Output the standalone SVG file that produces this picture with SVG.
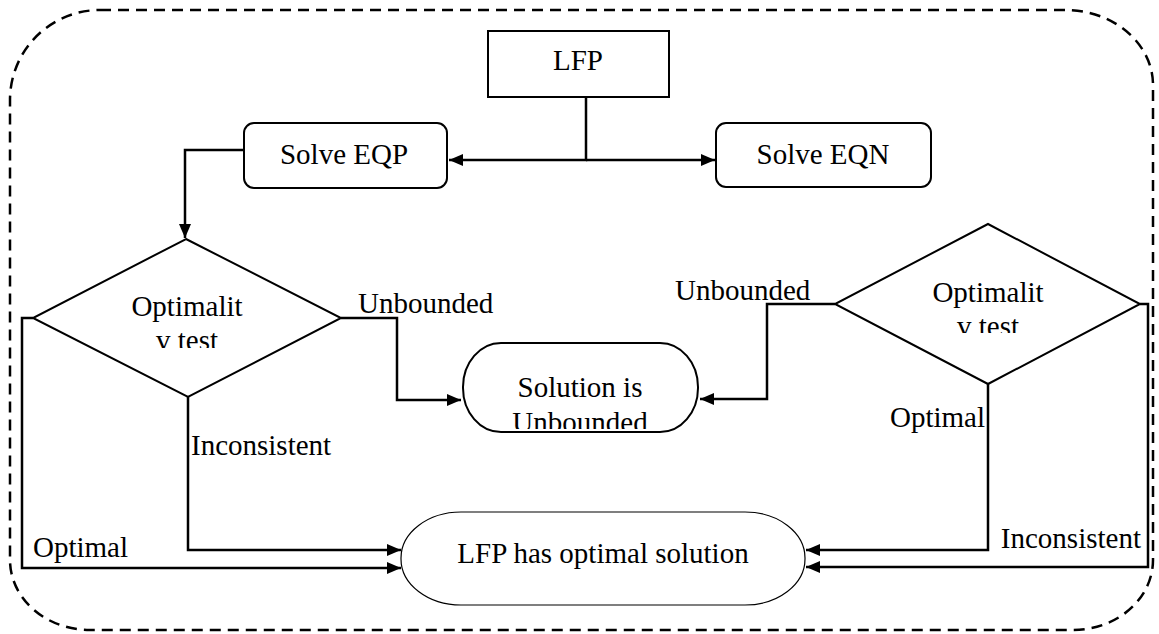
<svg xmlns="http://www.w3.org/2000/svg" width="1159" height="634" viewBox="0 0 1159 634">
<style>
text{font-family:"Liberation Serif","Tinos","Times New Roman","Noto Serif","DejaVu Serif",serif;font-size:29px;fill:#000}
.c{text-anchor:middle}
.e{text-anchor:end}
.n{fill:#fff;stroke:#000;stroke-width:2}
.w{fill:none;stroke:#000;stroke-width:2.5}
</style>
<defs>
<marker id="ah" markerWidth="14" markerHeight="12" refX="14" refY="6" orient="auto" markerUnits="userSpaceOnUse">
<path d="M0,0 L14,6 L0,12 Z" fill="#000"/>
</marker>
<clipPath id="cl1"><rect x="100" y="280" width="180" height="68"/></clipPath>
<clipPath id="cl2"><rect x="900" y="270" width="180" height="63"/></clipPath>
<clipPath id="cl3"><rect x="470" y="360" width="220" height="69"/></clipPath>
</defs>
<rect width="1159" height="634" fill="#fff"/>
<path id="frame" d="M100,10 H1065 A88,75 0 0 1 1153,85 V560 A80,70 0 0 1 1073,630 H90 A80,70 0 0 1 10,560 V100 A90,90 0 0 1 100,10 Z" fill="none" stroke="#000" stroke-width="2.5" stroke-dasharray="11,7"/>
<g id="connectors" class="w">
<path d="M637,96 H586 V160 H449" marker-end="url(#ah)"/>
<path d="M586,160 H715" marker-end="url(#ah)"/>
<path d="M244,150 H185 V238" marker-end="url(#ah)"/>
<path d="M341,318 H397 V400 H461" marker-end="url(#ah)"/>
<path d="M188,397 V550 H401" marker-end="url(#ah)"/>
<path d="M33,318 H22 V568 H401" marker-end="url(#ah)"/>
<path d="M835,304 H767 V399 H700" marker-end="url(#ah)"/>
<path d="M988,384 V550 H806" marker-end="url(#ah)"/>
<path d="M1140,304 H1148 V567 H806" marker-end="url(#ah)"/>
</g>
<g id="lfp">
<rect class="n" x="488" y="31" width="181" height="66"/>
<text class="c" x="578" y="70" font-family="Liberation Serif, serif">LFP</text>
</g>
<g id="eqp">
<rect class="n" x="244" y="123" width="203" height="65" rx="10"/>
<text class="c" x="344" y="164" font-family="Liberation Serif, serif">Solve EQP</text>
</g>
<g id="eqn">
<rect class="n" x="716" y="123" width="215" height="64" rx="10"/>
<text class="c" x="823" y="164" font-family="Liberation Serif, serif">Solve EQN</text>
</g>
<g id="testP">
<polygon class="n" points="186,239 341,318 188,397 33,318"/>
<text class="c" x="187" y="316">Optimalit</text>
<text class="c" x="187" y="350" clip-path="url(#cl1)">v test</text>
</g>
<g id="testN">
<polygon class="n" points="988,224 1140,304 988,384 835,304"/>
<text class="c" x="988" y="302">Optimalit</text>
<text class="c" x="988" y="336" clip-path="url(#cl2)">v test</text>
</g>
<g id="unbounded">
<rect class="n" x="463" y="343" width="235" height="89" rx="38" ry="44"/>
<text class="c" x="580" y="397">Solution is</text>
<text class="c" x="580" y="432" clip-path="url(#cl3)">Unbounded</text>
</g>
<g id="optimal">
<rect x="401" y="512" width="404" height="93" rx="60" ry="46" fill="#fff" stroke="#000" stroke-width="1.2"/>
<text class="c" x="603" y="563">LFP has optimal solution</text>
</g>
<g id="labels">
<text x="358" y="313">Unbounded</text>
<text x="191" y="455">Inconsistent</text>
<text x="33" y="557">Optimal</text>
<text x="675" y="300">Unbounded</text>
<text class="e" x="985" y="427">Optimal</text>
<text class="e" x="1141" y="548">Inconsistent</text>
</g>
</svg>
